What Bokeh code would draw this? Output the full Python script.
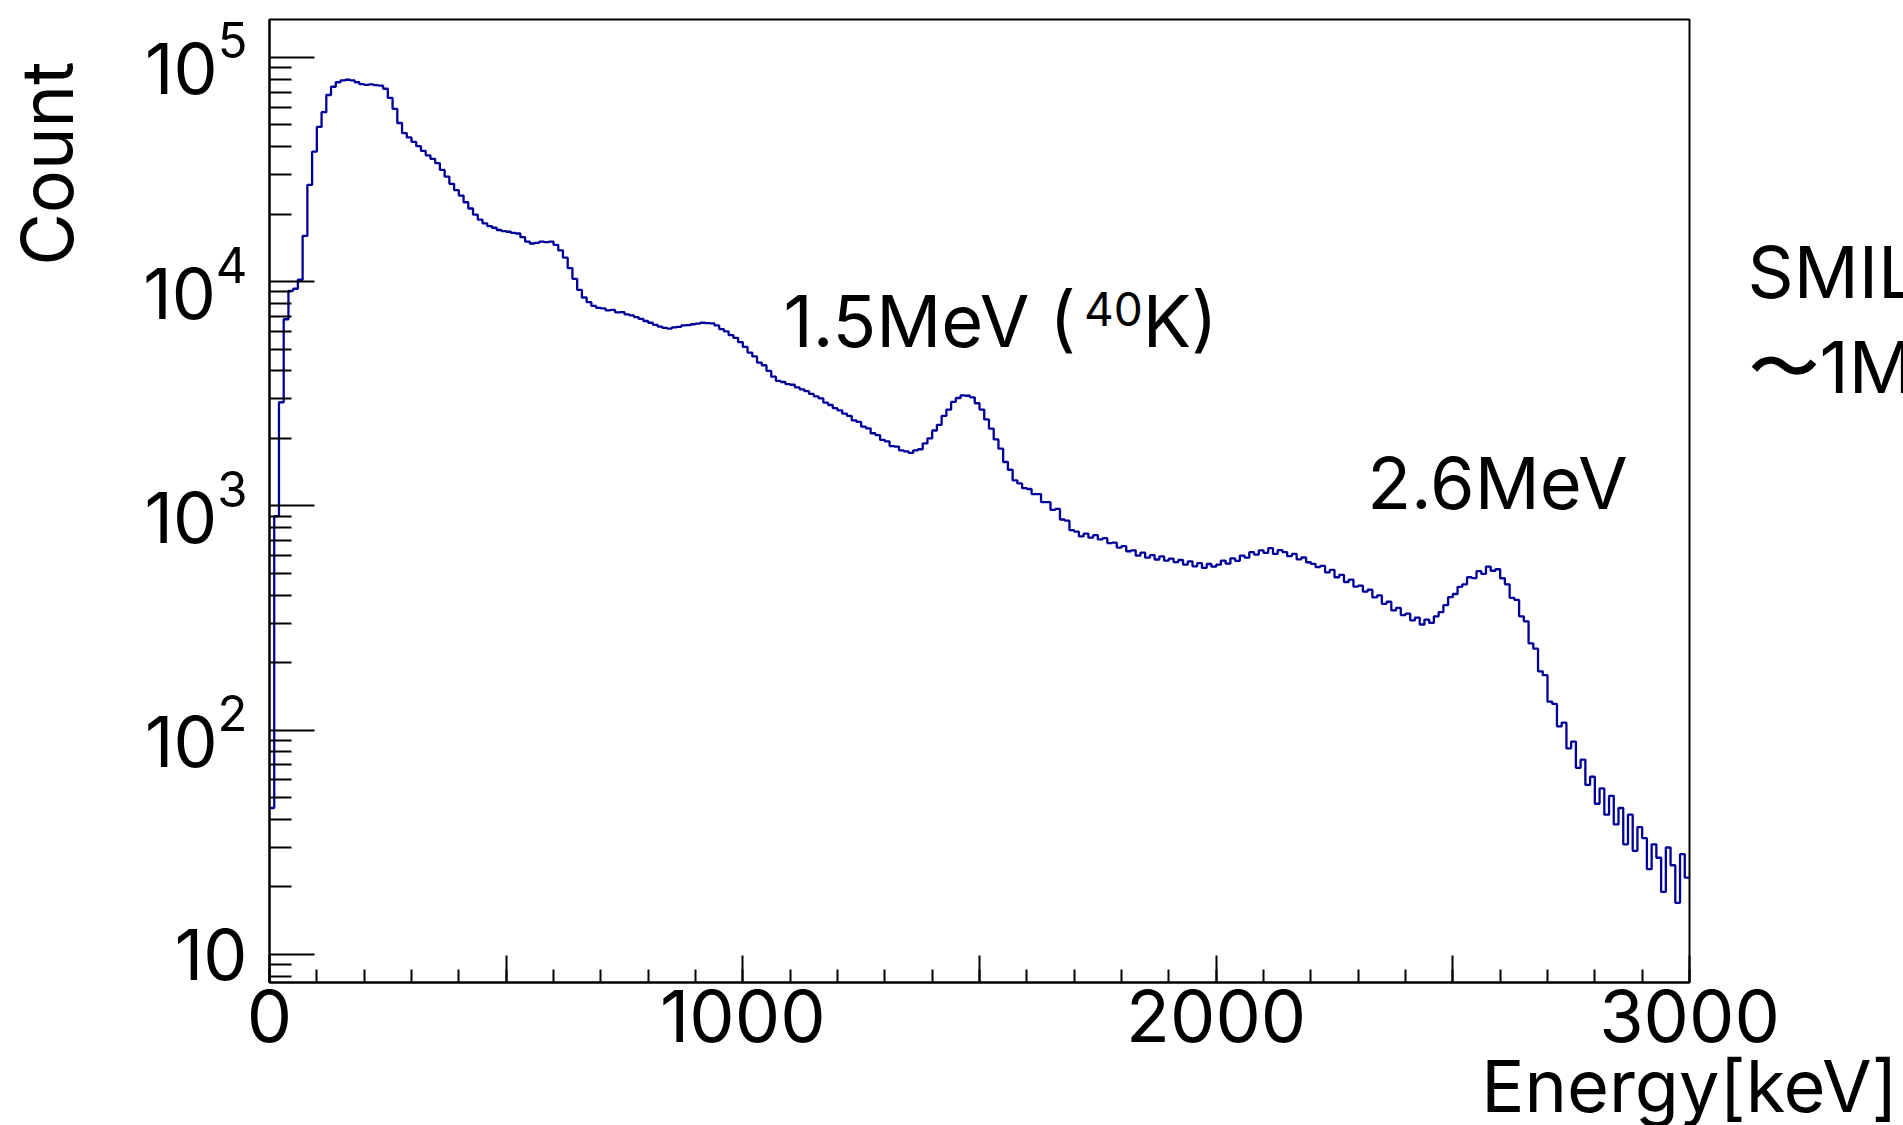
from bokeh.plotting import figure
from bokeh.models import Range1d, FixedTicker, LogTickFormatter, Label, LinearAxis
from bokeh.embed import file_html
from bokeh.resources import INLINE

# ---------------- data ----------------
bin_width = 10  # keV
counts = [
    45, 900, 2900, 6800, 9100, 9300, 10200, 16000, 27000, 38000,
    49000, 57000, 68000, 74000, 77500, 79000, 79500, 79000, 77500, 76000,
    75500, 75800, 75200, 74800, 72500, 66000, 59000, 51000, 46000, 44000,
    42000, 40200, 38300, 36600, 35300, 33800, 31500, 29400, 27300, 25600,
    24200, 22600, 21200, 19900, 18900, 18200, 17700, 17400, 17000, 16800,
    16700, 16500, 16400, 15800, 15100, 14800, 14900, 15100, 15000, 15100,
    14600, 13800, 12800, 11500, 10300, 9200, 8500, 8100, 7800, 7650,
    7600, 7450, 7480, 7300, 7320, 7150, 7080, 6950, 6820, 6680,
    6560, 6420, 6300, 6220, 6180, 6250, 6290, 6380, 6400, 6460,
    6500, 6560, 6540, 6520, 6380, 6150, 6000, 5780, 5620, 5380,
    5120, 4830, 4640, 4360, 4240, 4000, 3770, 3610, 3570, 3490,
    3470, 3380, 3310, 3250, 3160, 3080, 3020, 2890, 2820, 2730,
    2670, 2580, 2520, 2410, 2370, 2260, 2220, 2110, 2070, 1970,
    1940, 1850, 1840, 1770, 1750, 1725, 1770, 1790, 1900, 2000,
    2170, 2300, 2520, 2690, 2910, 3030, 3110, 3100, 3050, 2870,
    2690, 2430, 2210, 1980, 1800, 1570, 1450, 1300, 1260, 1200,
    1190, 1130, 1130, 1040, 1040, 960, 970, 870, 860, 780,
    768, 731, 752, 722, 741, 709, 718, 683, 686, 652,
    662, 628, 634, 601, 619, 588, 604, 577, 596, 571,
    582, 562, 574, 548, 566, 538, 556, 529, 551, 536,
    547, 571, 553, 584, 569, 601, 588, 622, 607, 634,
    618, 648, 611, 636, 622, 597, 611, 578, 589, 561,
    552, 534, 541, 506, 519, 481, 493, 458, 469, 437,
    441, 415, 423, 391, 399, 366, 374, 342, 351, 326,
    331, 309, 318, 296, 311, 301, 322, 336, 361, 392,
    405, 436, 447, 481, 477, 512, 498, 536, 514, 522,
    476, 447, 389, 381, 322, 306, 244, 231, 183, 176,
    134, 131, 104, 108, 83, 89, 68, 74, 57, 62,
    47, 55, 42, 51, 38, 45, 31, 42, 29, 37,
    33, 24, 31, 27, 19, 30, 25, 17, 28, 22,
]
x_major_ticks = [0, 500, 1000, 1500, 2000, 2500, 3000]
x_title = "Energy[keV]"
x_tick_labels = {0: "0", 500: "", 1000: "1000", 1500: "", 2000: "2000", 2500: "",
                 3000: "3000\n" + x_title}
y_major_ticks = [10, 100, 1000, 10000, 100000]
y_tick_overrides = {10: "10"}
y_title = "Count"
y_title_at = 33600
side_texts = {11110: "SMIL", 4188: "\u301c1M"}

edges = [i * bin_width for i in range(len(counts) + 1)]
step_y = counts + [counts[-1]]

FONT = "Inter"
BLUE = "#000099"

p = figure(width=1921, height=1152, output_backend="svg", toolbar_location=None,
           x_range=Range1d(0, 3000), y_range=Range1d(7.5, 1.476e5),
           y_axis_type="log",
           min_border_left=268, min_border_right=230, min_border_top=19, min_border_bottom=170)
p.background_fill_color = "white"
p.border_fill_color = "white"
p.outline_line_color = "black"
p.outline_line_width = 2
p.xgrid.visible = False
p.ygrid.visible = False

p.step(edges, step_y, mode="after", line_color=BLUE, line_width=2.3)

# x axis (title shares the 3000 label, ROOT style at the axis end)
xa = p.xaxis[0]
xa.ticker = FixedTicker(ticks=x_major_ticks, minor_ticks=list(range(0, 3001, 100)))
xa.major_label_overrides = x_tick_labels
xa.major_tick_in = 27
xa.major_tick_out = 0
xa.minor_tick_in = 13
xa.minor_tick_out = 0
xa.axis_line_width = 2
xa.major_tick_line_width = 2
xa.minor_tick_line_width = 2
xa.major_label_text_font = FONT
xa.major_label_text_font_size = "72px"
xa.major_label_text_line_height = 0.81
xa.major_label_standoff = -11
xa.major_label_text_color = "black"

# y axis
ya = p.yaxis[0]
minors = [k * 10 ** n for n in range(0, 6) for k in range(2, 10)]
ya.ticker = FixedTicker(ticks=y_major_ticks, minor_ticks=minors)
ya.formatter = LogTickFormatter()
ya.major_label_overrides = y_tick_overrides
ya.major_tick_in = 45
ya.major_tick_out = 0
ya.minor_tick_in = 22
ya.minor_tick_out = 0
ya.axis_line_width = 2
ya.major_tick_line_width = 2
ya.minor_tick_line_width = 2
ya.major_label_text_font = FONT
ya.major_label_text_font_size = "70px"
ya.major_label_standoff = 22
ya.major_label_text_color = "black"


def text_axis(ticks, overrides, orientation, standoff):
    ax = LinearAxis(ticker=FixedTicker(ticks=ticks, minor_ticks=[]),
                    major_label_overrides=overrides)
    ax.axis_line_color = None
    ax.major_tick_line_color = None
    ax.minor_tick_line_color = None
    ax.major_tick_in = 0
    ax.major_tick_out = 0
    ax.major_label_orientation = orientation
    ax.major_label_standoff = standoff
    ax.major_label_text_font = FONT
    ax.major_label_text_font_size = "72px"
    ax.major_label_text_color = "black"
    return ax


# "Count" at the top of the y axis (ROOT style)
p.add_layout(text_axis([y_title_at], {y_title_at: y_title}, "vertical", 50), "left")
# texts that continue to the right of the plot
p.add_layout(text_axis(list(side_texts), side_texts, "horizontal", 58), "right")


def lab(x, y, text, size="72px", **kw):
    p.add_layout(Label(x=x, y=y, text=text, text_font=FONT, text_font_size=size,
                       text_color="black", text_baseline="alphabetic", **kw))


lab(1086, 6720, "1.5MeV (")
lab(1721, 7517, "40", size="46px")
lab(1845, 6720, "K)")
lab(2319, 1273, "2.6MeV")

open("out.html", "w").write(file_html(p, INLINE))
